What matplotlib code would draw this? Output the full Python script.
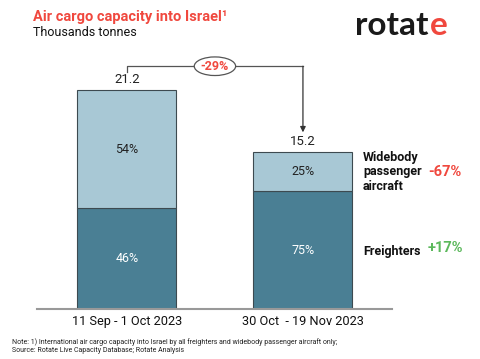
import numpy as np
import matplotlib.pyplot as plt
from matplotlib.patches import Ellipse

plt.rcParams['font.family'] = ['Roboto', 'DejaVu Sans']

# data
periods = ['11 Sep - 1 Oct 2023', '30 Oct  - 19 Nov 2023']
totals = np.array([21.2, 15.2])
freighter_share = np.array([46, 75])
widebody_share = np.array([54, 25])
change_total = '-29%'
change_widebody = '-67%'
change_freighter = '+17%'

dark = '#4a7f94'
light = '#a8c8d5'
red = '#f0483e'
green = '#5cb85c'

fig = plt.figure(figsize=(4.8, 3.59), dpi=100)
ax = fig.add_axes([37/480, 50/359, 355/480, 268.6/359])

x = np.arange(len(periods))
fr = totals * freighter_share / 100
wb = totals * widebody_share / 100
w = 0.5625
ax.bar(x, fr, w, color=dark, edgecolor='#3d4a50', linewidth=0.8)
ax.bar(x, wb, w, bottom=fr, color=light, edgecolor='#3d4a50', linewidth=0.8)

for i in range(len(x)):
    ax.text(x[i], fr[i] / 2, f'{freighter_share[i]}%', ha='center', va='center',
            color='white', fontsize=9)
    ax.text(x[i], fr[i] + wb[i] / 2, f'{widebody_share[i]}%', ha='center', va='center',
            color='#222222', fontsize=9)
    ax.text(x[i], totals[i] + 0.35, f'{totals[i]:.1f}', ha='center', va='bottom',
            color='#222222', fontsize=9.5)

# change arrow
ytop = 23.5
ax.plot([x[0], x[0], x[1]], [totals[0] + 1.7, ytop, ytop], color='#555555', lw=0.9,
        clip_on=False)
ax.annotate('', xy=(x[1], totals[1] + 1.9), xytext=(x[1], ytop),
            arrowprops=dict(arrowstyle='-|>', color='#333333', lw=0.9,
                            mutation_scale=8, shrinkA=0, shrinkB=0),
            annotation_clip=False)
ax.add_patch(Ellipse(((x[0] + x[1]) / 2, ytop), 0.235, 1.8, facecolor='white',
                     edgecolor='#555555', lw=0.9, clip_on=False, zorder=3))
ax.text((x[0] + x[1]) / 2, ytop, change_total, ha='center', va='center', color=red,
        fontsize=9, fontweight='bold', zorder=4)

ax.set_xlim(-0.511, 1.506)
ax.set_ylim(0, 26)
ax.set_xticks(x)
ax.set_xticklabels(periods, fontsize=9.2, color='#111111')
ax.tick_params(axis='x', length=0, pad=4)
ax.set_yticks([])
for s in ['top', 'right', 'left']:
    ax.spines[s].set_visible(False)
ax.spines['bottom'].set_color('#999999')
ax.spines['bottom'].set_linewidth(1.5)

# side labels
fig.text(363/480, 1 - 172/359, 'Widebody\npassenger\naircraft', ha='left', va='center',
         fontsize=9, fontweight='bold', color='#111111', linespacing=1.2)
fig.text(428/480, 1 - 172/359, change_widebody, ha='left', va='center',
         fontsize=10.5, fontweight='bold', color=red)
fig.text(363/480, 1 - 251/359, 'Freighters', ha='left', va='center',
         fontsize=9, fontweight='bold', color='#111111')
fig.text(428/480, 1 - 248/359, change_freighter, ha='left', va='center',
         fontsize=10.5, fontweight='bold', color=green)

# titles
fig.text(33/480, 1 - 17/359, 'Air cargo capacity into Israel\u00b9', ha='left', va='center',
         fontsize=10.5, fontweight='bold', color=red)
fig.text(33/480, 1 - 33/359, 'Thousands tonnes', ha='left', va='center',
         fontsize=9, color='#111111')

# logo
t = fig.text(355/480, 1 - 35/359, 'rotat', ha='left', va='baseline', fontsize=24,
             color='#1a1a1a', family='Lato', fontweight='bold')
fig.canvas.draw()
bb = t.get_window_extent()
fig.text(bb.x1 / 480 + 0.002, 1 - 35/359, 'e', ha='left', va='baseline', fontsize=24,
         color=red, family='Lato', fontweight='bold')

# footnote
fig.text(12/480, 1 - 342/359,
         'Note: 1) International air cargo capacity into Israel by all freighters and widebody passenger aircraft only;',
         ha='left', va='center', fontsize=5.05, color='#222222')
fig.text(12/480, 1 - 350/359, 'Source: Rotate Live Capacity Database; Rotate Analysis',
         ha='left', va='center', fontsize=5.05, color='#222222')

fig.savefig('out.png', dpi=100)
